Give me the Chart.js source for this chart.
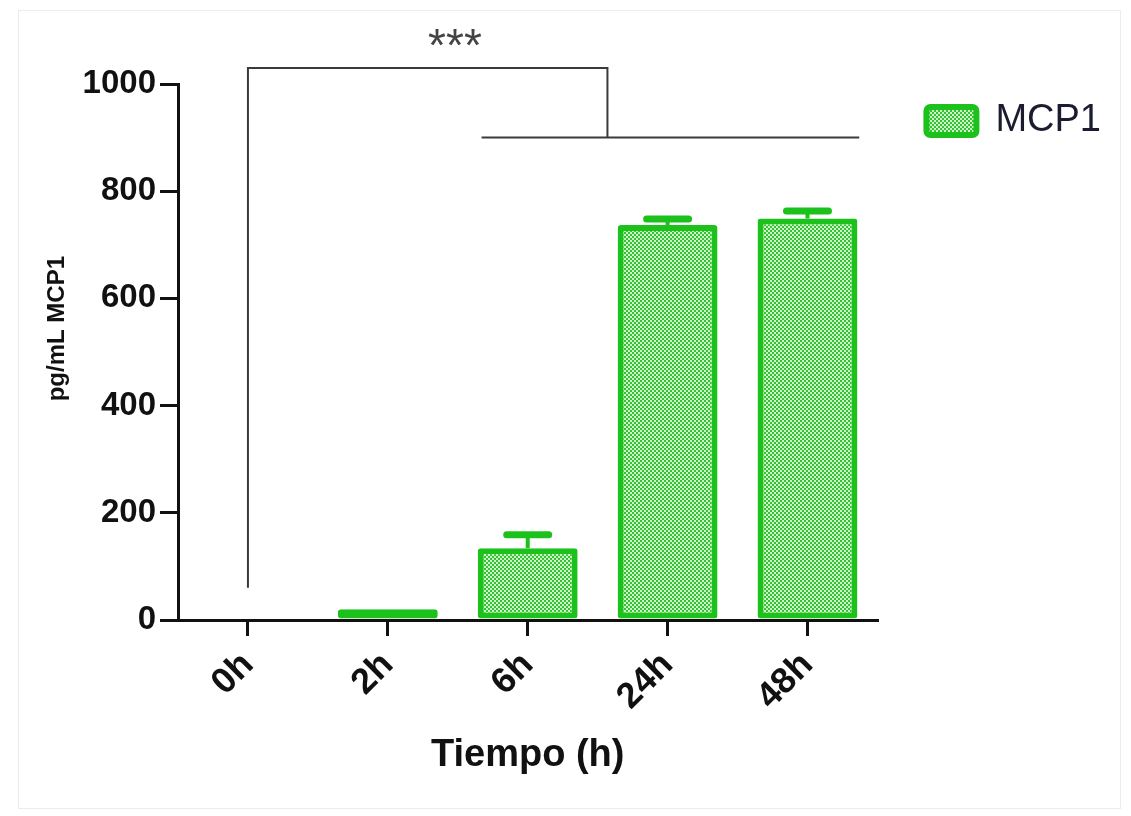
<!DOCTYPE html>
<html>
<head>
<meta charset="utf-8">
<script src="https://cdn.jsdelivr.net/npm/chart.js@4/dist/chart.umd.min.js"></script>
<style>
  html, body { margin: 0; padding: 0; background: #ffffff; }
  #wrap { position: relative; width: 1131px; height: 816px; }
  #frame { position: absolute; left: 18px; top: 10px; width: 1101px; height: 797px; border: 1px solid #ececec; pointer-events: none; }
</style>
</head>
<body>
<div id="wrap">
  <canvas id="c" width="1131" height="816"></canvas>
  <div id="frame"></div>
</div>
<script>
// ---- data ----
const categories = ['0h', '2h', '6h', '24h', '48h'];
const seriesName = 'MCP1';
const meanValues = [0, 20, 134, 737, 749];
const errorUp = [0, 0, 25, 11, 14];
const yTicks = [0, 200, 400, 600, 800, 1000];
// significance annotation (category index / data units)
const sigBracketX = [0, 2.57];        // left leg, right leg
const sigBracketY = [60, 1030, 900];  // left leg bottom, bar height, right leg bottom
const sigGroupX = [1.67, 4.37];       // horizontal group line span
const sigGroupY = [900];
const sigText = ['***'];
const sigTextPos = [1.48, 1086];

// ---- style ----
const GREEN = '#1cc11c';
const SANS = "'Liberation Sans', Arial, sans-serif";

function makePattern() {
  const c = document.createElement('canvas');
  c.width = 4; c.height = 4;
  const g = c.getContext('2d');
  g.fillStyle = '#cdf3c6';
  g.fillRect(0, 0, 4, 4);
  g.fillStyle = '#36c236';
  g.fillRect(0, 0, 2, 2);
  g.fillRect(2, 2, 2, 2);
  return g.createPattern(c, 'repeat');
}
const pattern = makePattern();

const errorBarPlugin = {
  id: 'errorBars',
  afterDatasetsDraw(chart) {
    const ctx = chart.ctx;
    const meta = chart.getDatasetMeta(0);
    const y = chart.scales.y;
    ctx.save();
    ctx.strokeStyle = GREEN;
    meta.data.forEach((bar, i) => {
      if (!errorUp[i]) return;
      const top = y.getPixelForValue(meanValues[i] + errorUp[i]);
      const base = y.getPixelForValue(meanValues[i]);
      ctx.lineCap = 'butt';
      ctx.lineWidth = 4;
      ctx.beginPath();
      ctx.moveTo(bar.x, base);
      ctx.lineTo(bar.x, top);
      ctx.stroke();
      ctx.lineCap = 'round';
      ctx.lineWidth = 7;
      ctx.beginPath();
      ctx.moveTo(bar.x - 21, top);
      ctx.lineTo(bar.x + 21, top);
      ctx.stroke();
    });
    ctx.restore();
  }
};

const sigPlugin = {
  id: 'sig',
  afterDraw(chart) {
    const ctx = chart.ctx;
    const x = chart.scales.x, y = chart.scales.y;
    const px = v => x.getPixelForValue(v);
    const py = v => y.getPixelForValue(v);
    ctx.save();
    ctx.strokeStyle = '#3a3a3a';
    ctx.lineWidth = 2;
    ctx.beginPath();
    ctx.moveTo(px(sigBracketX[0]), py(sigBracketY[0]));
    ctx.lineTo(px(sigBracketX[0]), py(sigBracketY[1]));
    ctx.lineTo(px(sigBracketX[1]), py(sigBracketY[1]));
    ctx.lineTo(px(sigBracketX[1]), py(sigBracketY[2]));
    ctx.stroke();
    ctx.beginPath();
    ctx.moveTo(px(sigGroupX[0]), py(sigGroupY[0]));
    ctx.lineTo(px(sigGroupX[1]), py(sigGroupY[0]));
    ctx.stroke();
    ctx.fillStyle = '#444444';
    ctx.font = "46px " + SANS;
    ctx.textAlign = 'center';
    ctx.textBaseline = 'middle';
    ctx.fillText(sigText[0], px(sigTextPos[0]), py(sigTextPos[1]) + 10);
    ctx.restore();
  }
};

new Chart(document.getElementById('c'), {
  type: 'bar',
  data: {
    labels: categories,
    datasets: [{
      label: seriesName,
      data: meanValues,
      backgroundColor: pattern,
      borderColor: GREEN,
      borderWidth: 6,
      borderRadius: 3,
      borderSkipped: false,
      barPercentage: 0.714,
      categoryPercentage: 1.0
    }]
  },
  options: {
    responsive: false,
    animation: false,
    devicePixelRatio: 1,
    layout: { padding: { left: 20, right: 20, top: 53, bottom: 20 } },
    plugins: {
      title: { display: true, text: '', font: { size: 10 }, padding: { top: 0, bottom: 19 } },
      tooltip: { enabled: false },
      legend: {
        display: true,
        position: 'right',
        align: 'start',
        labels: {
          boxWidth: 50,
          boxHeight: 28,
          padding: 49,
          useBorderRadius: true,
          borderRadius: 4,
          color: '#1c1c30',
          font: { family: SANS, size: 38, weight: 'normal' }
        }
      }
    },
    scales: {
      x: {
        type: 'category',
        offset: true,
        afterFit(s) { s.height = 176; },
        grid: { display: true, offset: false, drawOnChartArea: false, drawTicks: true, tickLength: 16, color: '#111111', lineWidth: 3 },
        border: { display: true, color: '#111111', width: 3 },
        ticks: {
          color: '#111111',
          font: { family: SANS, size: 36, weight: 'bold' },
          maxRotation: 45, minRotation: 45,
          autoSkip: false,
          padding: 8
        },
        title: {
          display: true,
          text: 'Tiempo (h)',
          color: '#111111',
          font: { family: SANS, size: 38, weight: 'bold' },
          padding: { top: 0, bottom: 18 }
        }
      },
      y: {
        min: 0, max: 1000,
        afterFit(s) { s.width = 158; },
        afterBuildTicks(s) { s.ticks = yTicks.map(v => ({ value: v })); },
        grid: { display: true, drawOnChartArea: false, drawTicks: true, tickLength: 18, color: '#111111', lineWidth: 3 },
        border: { display: true, color: '#111111', width: 3 },
        ticks: {
          color: '#111111',
          font: { family: SANS, size: 33, weight: 'bold' },
          padding: 4,
          callback: (v) => String(v)
        },
        title: {
          display: true,
          text: '       pg/mL MCP1',
          color: '#111111',
          font: { family: SANS, size: 24, weight: 'bold' },
          padding: { top: 23, bottom: 0 }
        }
      }
    }
  },
  plugins: [errorBarPlugin, sigPlugin]
});
</script>
</body>
</html>
